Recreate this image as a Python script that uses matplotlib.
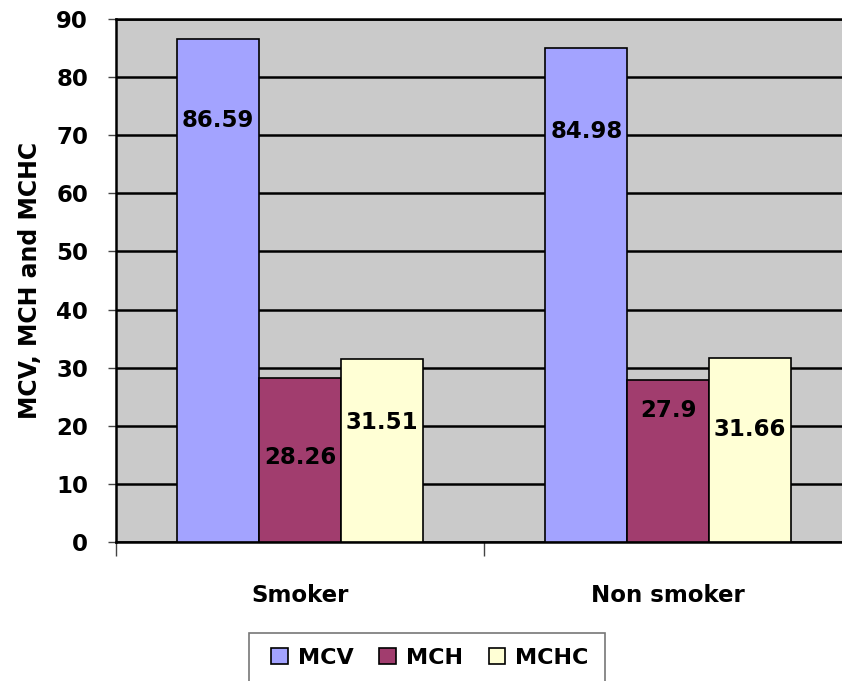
import matplotlib.pyplot as plt
from matplotlib.patches import Rectangle
import numpy as np

groups = ['Smoker', 'Non smoker']
series = ['MCV', 'MCH', 'MCHC']
mcv = [86.59, 84.98]
mch = [28.26, 27.9]
mchc = [31.51, 31.66]
values = [mcv, mch, mchc]

colors = ['#A3A3FF', '#A13D6E', '#FFFFD5']
# where each value label sits (in data units), per series and group
label_y = [[72.6, 70.6], [14.5, 22.7], [20.6, 19.3]]

plt.rcParams['font.family'] = 'DejaVu Sans'
plt.rcParams['font.weight'] = 'bold'

fig = plt.figure(figsize=(8.42, 6.81), dpi=100)
ax = fig.add_axes([116 / 842, 139 / 681, 736 / 842, 523 / 681])
ax.set_facecolor('#CACACA')

x = np.arange(len(groups))
w = 0.222
for i, (name, vals) in enumerate(zip(series, values)):
    pos = x + (i - 1) * w
    ax.bar(pos, vals, width=w, color=colors[i], edgecolor='black',
           linewidth=1.2, label=name, zorder=3)
    for px, v, ly in zip(pos, vals, label_y[i]):
        ax.text(px, ly, f'{v:g}', ha='center', va='center',
                fontsize=16.5, fontweight='bold', zorder=4)

ax.set_xlim(-0.5, 1.5)
ax.set_ylim(0, 90)
ax.set_yticks(np.arange(0, 91, 10))
ax.yaxis.grid(True, color='black', linewidth=1.8, zorder=1)
ax.set_axisbelow(True)

ax.set_xticks([-0.5, 0.5, 1.5])
ax.set_xticklabels([])
ax.set_xticks(x, minor=True)
ax.set_xticklabels(groups, minor=True)
ax.tick_params(axis='x', which='major', length=10, width=1, color='#444444')
ax.tick_params(axis='x', which='minor', length=0, pad=30, labelsize=16.5)
ax.tick_params(axis='y', length=6, width=1, color='#444444', labelsize=16.5, pad=14)

for side in ['top', 'left', 'bottom']:
    ax.spines[side].set_linewidth(1.8)
ax.spines['right'].set_visible(False)

ax.set_ylabel('MCV, MCH and MCHC', fontsize=17, fontweight='bold', labelpad=10)

# legend entries without a frame, the box is drawn separately (runs off the bottom)
fig.legend(loc='center', bbox_to_anchor=(430 / 842, 1 - 658 / 681),
           ncol=3, fontsize=16, frameon=False, handlelength=0.75,
           handleheight=0.75, handletextpad=0.45, columnspacing=1.15,
           borderpad=0, borderaxespad=0)
fig.add_artist(Rectangle((249 / 842, -0.02), 356 / 842, 48 / 681 + 0.02,
                         transform=fig.transFigure, fill=False,
                         edgecolor='#777777', linewidth=1.2))

fig.savefig('out.png', dpi=100, facecolor='white')
